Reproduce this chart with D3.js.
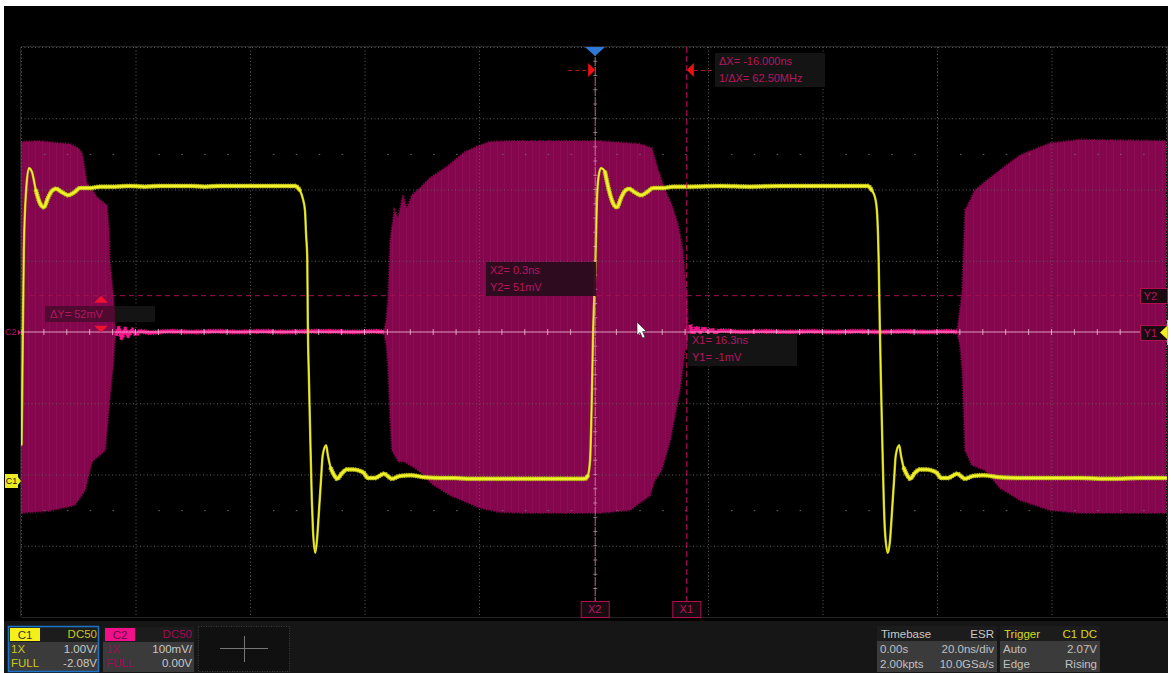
<!DOCTYPE html>
<html><head><meta charset="utf-8">
<script src="https://cdn.jsdelivr.net/npm/d3@7"></script>
<style>html,body{margin:0;padding:0;background:#fff;overflow:hidden}svg{display:block}text{font-family:"Liberation Sans",Arial,sans-serif}</style>
</head><body><svg id="c" width="1171" height="673"></svg>
<script>
// Channel 1 (yellow): time in ns, level in volts
const c1Time=[-99.9,-99.8,-99.5,-99.1,-98.6,-98.1,-97.4,-96.7,-96,-95.3,-94.6,-93.9,-92.8,-91.8,-90.7,-89.7,-87.9,-86.2,-83.6,-81,-78.4,-75.7,-73.1,-70.5,-67.9,-65.2,-62.6,-60,-57.4,-54.7,-52.1,-51.3,-50.8,-50.4,-50.2,-50,-49.9,-49.7,-49.5,-49.2,-49,-48.6,-48.3,-48,-47.6,-47.3,-46.7,-46.4,-45.9,-45.3,-44.8,-43.9,-43.1,-42,-40.8,-40.1,-39.4,-38.2,-36.6,-35.2,-33.8,-32,-29.4,-26.8,-24.2,-21.6,-18.1,-14.6,-11.1,-7.6,-4.1,-1.5,-1,-.6,-.3,-.1,.3,.6,.9,1.3,2,2.7,3.4,4.1,4.8,5.5,6.2,7.2,8.3,9.3,10.4,12.1,13.9,16.9,22.1,27.3,32.6,37.8,43,47.9,48.6,49.2,49.5,49.7,49.8,50,50.2,50.4,50.7,50.9,51.4,51.8,52.1,52.5,52.8,53.4,53.7,54.2,54.8,55.3,56.1,57,58.1,59.3,60,60.7,61.9,63.5,64.9,66.3,68,71,74.5,79.7,85,90.2,95.5,100];
const c1Volts=[.5,1.13,3.23,4.07,4.38,4.33,4.07,3.89,3.83,3.96,4.06,4.09,4.04,4,4.04,4.1,4.1,4.12,4.12,4.13,4.12,4.13,4.13,4.13,4.12,4.13,4.13,4.13,4.13,4.13,4.13,4.07,3.96,3.79,3.44,3.13,2.21,1.41,.7,-.28,-.7,-1.02,-.84,-.49,0,.35,.49,.35,.17,.07,.02,.1,.15,.15,.13,.1,.03,.03,.09,.02,.06,.07,.04,.03,.03,.02,.02,.02,.02,.02,.02,.02,.06,.28,1.13,1.97,2.95,3.93,4.27,4.38,4.33,4.07,3.89,3.83,3.96,4.06,4.09,4.04,4,4.04,4.1,4.1,4.12,4.12,4.13,4.12,4.13,4.13,4.13,4.13,4.07,3.96,3.79,3.44,3.13,2.21,1.41,.7,-.28,-.7,-1.02,-.84,-.49,0,.35,.49,.35,.17,.07,.02,.1,.15,.15,.13,.1,.03,.03,.09,.02,.06,.07,.04,.03,.03,.03,.02,.03,.03];
// Time windows in which the yellow trace has settled and looks thick
const settledStart=[-97.4,-45.9,2,54.2];
const settledEnd=[-51.3,-1,48.6,100];

// Channel 2 bursts (envelope): time in ns, level in mV
const burst1UpperT=[-100,-96.7,-93.2,-91.4,-90,-89.3,-88.5,-86.7,-85,-84.6,-84.5,-83.9,-83.6,-83.4];
const burst1UpperV=[267,268,265,264,258,251,209,189,178,143,101,52,10,0];
const burst1LowerT=[-100,-95,-90.6,-88.8,-87.6,-85.3,-84.5,-83.9,-83.6,-83.4];
const burst1LowerV=[-254,-251,-243,-222,-182,-166,-95,-46,-11,0];
const burst2UpperT=[-36.6,-36.2,-35.9,-35.5,-34.8,-34.1,-33.3,-32.6,-31.7,-30.3,-28.6,-25.6,-22.4,-19.8,-18.1,-14.6,1.1,8.1,10.2,11.3,12.5,13.7,14.8,15.6,16.2,16.5,16.9];
const burst2UpperV=[0,17,45,129,171,160,192,174,192,202,216,232,253,262,267,268,268,264,258,227,199,178,150,115,59,10,0];
const burst2LowerT=[-36.6,-36.2,-35.9,-35.5,-35.2,-34.1,-33,-31.2,-30.3,-28.2,-25.1,-19.8,-16.3,-11.1,1.1,6.4,9.9,10.7,11.9,13.4,15.1,16,16.9];
const burst2LowerV=[0,-18,-46,-124,-166,-182,-182,-191,-196,-213,-229,-247,-253,-254,-254,-250,-229,-208,-194,-152,-81,-25,0];
const burst3UpperT=[63.5,64,64.4,64.9,65.8,66.6,68.4,71,74.5,79.7,85,100];
const burst3UpperV=[0,31,59,171,185,199,211,227,248,265,270,268];
const burst3LowerT=[63.5,64,64.4,64.9,66.1,68.4,71,74.5,79.7,85,100];
const burst3LowerV=[0,-18,-53,-166,-187,-194,-219,-236,-250,-254,-254];

// Channel 2 idle trace between bursts
const idle1T=[-83.4,-82.9,-82.4,-81.8,-81.3,-80.6,-79.9,-79.2,-77.5,-74,-70,-66,-62,-58,-54,-50,-46,-42,-38,-36.6];
const idle1V=[-5,5,-8,4,-5,3,-3,1,-1,1,0,1,0,1,0,1,1,0,1,0];
const idle2T=[16.9,17.4,18.1,18.6,19.3,20,20.7,21.4,22.1,26,30,34,38,42,46,50,54,58,62,63.5];
const idle2V=[10,-2,6,-1,5,0,3,-1,2,0,1,0,1,0,1,0,1,0,1,0];

// Settings and readouts
const gridTimes=[-100,-80,-60,-40,-20,0,20,40,60,80,100];
const gridLevels=[-400,-300,-200,-100,0,100,200,300,400];
const minorTimes=[-96,-92,-88,-84,-76,-72,-68,-64,-56,-52,-48,-44,-36,-32,-28,-24,-16,-12,-8,-4,4,8,12,16,24,28,32,36,44,48,52,56,64,68,72,76,84,88,92,96];
const minorLevels=[-380,-360,-340,-320,-280,-260,-240,-220,-180,-160,-140,-120,-80,-60,-40,-20,20,40,60,80,120,140,160,180,220,240,260,280,320,340,360,380];
const halfRows=[250,-250];
const x2Time=0.3, x1Time=16.3, y2Level=51, y1Level=-1;
const deltaXLabels=["ΔX= -16.000ns","1/ΔX= 62.50MHz"];
const x2Labels=["X2= 0.3ns","Y2= 51mV"];
const x1Labels=["X1= 16.3ns","Y1= -1mV"];
const deltaYLabel="ΔY= 52mV";
const c1Panel=["C1","DC50","1X","1.00V/","FULL","-2.08V"];
const c2Panel=["C2","DC50","1X","100mV/","FULL","0.00V"];
const timebasePanel=["Timebase","ESR","0.00s","20.0ns/div","2.00kpts","10.0GSa/s"];
const triggerPanel=["Trigger","C1 DC","Auto","2.07V","Edge","Rising"];

const svg=d3.select("#c");
const PL=21,PR=1166,PT=47,PB=617;
const x=d3.scaleLinear().domain([-100,100]).range([PL,PR]);
const yM=d3.scaleLinear().domain([-400,400]).range([PB,PT]);
const yV=d3.scaleLinear().domain([-1.92,6.08]).range([PB,PT]);
const pairs=(a,b)=>a.map((d,i)=>[d,b[i]]);

svg.append("rect").attr("x",4).attr("y",6).attr("width",1164).attr("height",667).attr("fill","#000");
svg.append("rect").attr("x",4).attr("y",621).attr("width",1164).attr("height",52).attr("fill","#161616");

const defs=svg.append("defs");
const pat=defs.append("pattern").attr("id","st").attr("width",7).attr("height",10).attr("patternUnits","userSpaceOnUse");
pat.append("rect").attr("width",7).attr("height",10).attr("fill","#84064c");
pat.append("rect").attr("width",1).attr("height",10).attr("fill","#8e0b55");
defs.append("clipPath").attr("id","pc").append("rect").attr("x",PL).attr("y",PT).attr("width",PR-PL+1).attr("height",PB-PT);

const plot=svg.append("g").attr("clip-path","url(#pc)");

// bursts, with a fine toothed outline for the carrier's rough edge
const line=d3.line().x(d=>x(d[0])).y(d=>yM(d[1]));
[[burst1UpperT,burst1UpperV,burst1LowerT,burst1LowerV],[burst2UpperT,burst2UpperV,burst2LowerT,burst2LowerV],[burst3UpperT,burst3UpperV,burst3LowerT,burst3LowerV]].forEach(b=>{
  const poly=pairs(b[0],b[1]).concat(pairs(b[2],b[3]).reverse());
  plot.append("path").attr("d",line(poly)+"Z").attr("fill","url(#st)").attr("stroke","#84064c").attr("stroke-width",2.2).attr("stroke-dasharray","1 1.6");
});

// grid
const gridCol="#5c5c5c";
plot.selectAll(".gv").data(gridTimes.filter(d=>d!==0)).join("line").attr("x1",d=>x(d)+.5).attr("x2",d=>x(d)+.5).attr("y1",PT).attr("y2",PB)
  .attr("stroke",gridCol).attr("stroke-dasharray","1 2.5");
plot.selectAll(".gh").data(gridLevels.filter(d=>d!==0)).join("line").attr("y1",d=>yM(d)+.5).attr("y2",d=>yM(d)+.5).attr("x1",PL).attr("x2",PR)
  .attr("stroke",gridCol).attr("stroke-dasharray","1 2.5");
halfRows.forEach(r=>{
  plot.selectAll(null).data(minorTimes).join("rect").attr("x",d=>x(d)).attr("y",yM(r)).attr("width",1.5).attr("height",1).attr("fill","#6a6a6a");
});

// idle trace
[[idle1T,idle1V],[idle2T,idle2V]].forEach(s=>{
  const p=plot.append("g").attr("fill","none");
  const dd=line.curve(d3.curveMonotoneX)(pairs(s[0],s[1]));
  p.append("path").attr("d",dd).attr("stroke","#d8107c").attr("stroke-width",5.2).attr("stroke-dasharray","1 1.4");
  p.append("path").attr("d",dd).attr("stroke","#f5148c").attr("stroke-width",3.4);
});
line.curve(d3.curveLinear);

// Y2 dashed cursor
plot.append("line").attr("x1",PL).attr("x2",PR).attr("y1",yM(y2Level)).attr("y2",yM(y2Level)).attr("stroke","#a8104f").attr("stroke-dasharray","5 4");

// yellow trace
const lineV=d3.line().x(d=>x(d[0])).y(d=>yV(d[1])).curve(d3.curveMonotoneX);
const c1=pairs(c1Time,c1Volts);
const yel=plot.append("g").attr("fill","none").attr("stroke-linecap","round");
yel.append("path").attr("d",lineV(c1)).attr("stroke","#c2c21a").attr("stroke-width",2.4);
settledStart.forEach((s,i)=>{
  const part=lineV(c1.filter(d=>d[0]>=s&&d[0]<=settledEnd[i]));
  yel.append("path").attr("d",part).attr("stroke","#a8a814").attr("stroke-width",5).attr("stroke-linecap","butt").attr("stroke-dasharray","1 1.3");
  yel.append("path").attr("d",part).attr("stroke","#c6c61c").attr("stroke-width",4);
  yel.append("path").attr("d",part).attr("stroke","#f2f22c").attr("stroke-width",2);
});
yel.append("path").attr("d",lineV(c1)).attr("stroke","#f4f42a").attr("stroke-width",1.1);

// centre axes
plot.append("line").attr("x1",PL).attr("x2",PR).attr("y1",yM(0)).attr("y2",yM(0)).attr("stroke","#f4c0da").attr("stroke-opacity",.8);
plot.selectAll(".tx").data(minorTimes.concat(gridTimes)).join("line").attr("x1",d=>x(d)).attr("x2",d=>x(d)).attr("y1",yM(0)-3).attr("y2",yM(0)+3).attr("stroke","#f4c0da").attr("stroke-opacity",.8);
plot.selectAll(".ty").data(minorLevels.concat(gridLevels)).join("line").attr("x1",x(x2Time)-2).attr("x2",x(x2Time)+2).attr("y1",d=>yM(d)).attr("y2",d=>yM(d)).attr("stroke","#f4c0da").attr("stroke-opacity",.55);

// X cursors
plot.append("line").attr("x1",x(x2Time)).attr("x2",x(x2Time)).attr("y1",PT).attr("y2",PB).attr("stroke","#d88ab0").attr("stroke-opacity",.8).attr("stroke-dasharray","9 1");
plot.append("line").attr("x1",x(x1Time)).attr("x2",x(x1Time)).attr("y1",PT).attr("y2",PB).attr("stroke","#c8105f").attr("stroke-dasharray","6 3");

// plot border
const edge="#242424";
svg.append("line").attr("x1",PL).attr("x2",PR+2).attr("y1",PT-.5).attr("y2",PT-.5).attr("stroke",edge);
svg.append("line").attr("x1",PL).attr("x2",PR+2).attr("y1",PB+.5).attr("y2",PB+.5).attr("stroke",edge);
svg.append("line").attr("x1",PL-.5).attr("x2",PL-.5).attr("y1",PT).attr("y2",PB).attr("stroke",edge);
svg.append("line").attr("x1",PR+1.5).attr("x2",PR+1.5).attr("y1",PT).attr("y2",PB).attr("stroke",edge);

// measurement boxes
const curCol="#b81560";
function box(bx,by,w,h,fill,op,lines,tx,ys){
  svg.append("rect").attr("x",bx).attr("y",by).attr("width",w).attr("height",h).attr("fill",fill).attr("fill-opacity",op);
  lines.forEach((s,i)=>svg.append("text").attr("x",tx).attr("y",ys[i]).attr("font-size",11).attr("fill",curCol).text(s));
}
box(715,53,110,34,"#141414",1,deltaXLabels,719,[65,82]);
box(486,262,110,34,"#2a0c1c",.95,x2Labels,490,[274,291]);
box(688,334,109,32,"#141414",1,x1Labels,692,[344,361]);
svg.append("rect").attr("x",115).attr("y",306).attr("width",40).attr("height",16).attr("fill","#141414");
box(45,306,70,16,"#4a0a2e",.9,[deltaYLabel],50,[318]);

// delta arrows
const tri=(pts,fill)=>svg.append("polygon").attr("points",pts.map(p=>p.join(",")).join(" ")).attr("fill",fill);
const ax2=x(x2Time), ax1=x(x1Time), ay2=yM(y2Level), ay1=yM(y1Level);
tri([[ax2-7,63],[ax2-7,77],[ax2,70]],"#f01010");
tri([[ax1,70],[ax1+7,63],[ax1+7,77]],"#f01010");
svg.append("line").attr("x1",ax2-27).attr("x2",ax2-7).attr("y1",70.5).attr("y2",70.5).attr("stroke","#b01818").attr("stroke-dasharray","4 3");
svg.append("line").attr("x1",ax1+7).attr("x2",ax1+26).attr("y1",70.5).attr("y2",70.5).attr("stroke","#b01818").attr("stroke-dasharray","4 3");
tri([[101,ay2],[94,ay2+7],[108,ay2+7]],"#f01030");
tri([[101,ay1-.5],[94,ay1-7],[108,ay1-7]],"#f01030");

// trigger marker
tri([[585,47],[605,47],[595,56]],"#2f78d8");
// cursor tags
function tag(bx,by,w,h,s,dx){
  svg.append("rect").attr("x",bx+.5).attr("y",by+.5).attr("width",w).attr("height",h).attr("fill","#1a0a12").attr("stroke","#b0104f");
  svg.append("text").attr("x",bx+w/2+(dx||0)).attr("y",by+h/2+4).attr("text-anchor","middle").attr("font-size",11).attr("fill","#b81560").text(s);
}
tag(x(x2Time)-14.5,601,28,16,"X2");
tag(x(x1Time)-14.5,601,28,16,"X1");
tag(1140,288,27,15,"Y2",-3);
tag(1140,325,27,15,"Y1",-3);
tri([[1160,332.5],[1167,326],[1167,339]],"#f4f020");
svg.append("rect").attr("x",1167).attr("y",320).attr("width",1).attr("height",25).attr("fill","#c8c820");

// channel markers
svg.append("text").attr("x",5).attr("y",335).attr("font-size",9).attr("fill","#b01060").text("C2");
tri([[18,330],[21,332.5],[18,335]],"#d01878");
svg.append("rect").attr("x",5).attr("y",474).attr("width",13).attr("height",14).attr("fill","#ecec20");
tri([[18,477],[21,481],[18,485]],"#ecec20");
svg.append("text").attr("x",11.5).attr("y",484).attr("text-anchor","middle").attr("font-size",9).attr("fill","#222").text("C1");

// mouse pointer
svg.append("path").attr("transform","translate(637,322)")
  .attr("d",d3.line()([[0,0],[0,13],[3,10.5],[5.5,16],[8,15],[5.5,9.5],[9.5,9.5]])+"Z").attr("fill","#fff").attr("stroke","#222").attr("stroke-width",.6);

// bottom panels
const F=11.5;
function txt(px,py,s,col,anchor){
  svg.append("text").attr("x",px).attr("y",py).attr("font-size",F).attr("fill",col).attr("text-anchor",anchor||"start").text(s);
}
function chan(px,w,vals,mainCol,labCol,valCol,tagTxt,border){
  svg.append("rect").attr("x",px).attr("y",627).attr("width",w).attr("height",45).attr("fill","#3b3b3b");
  svg.append("rect").attr("x",px).attr("y",627).attr("width",w).attr("height",15).attr("fill","#1c1c1c");
  svg.append("rect").attr("x",px+2).attr("y",628).attr("width",30).attr("height",13).attr("fill",mainCol);
  svg.append("text").attr("x",px+17).attr("y",639).attr("text-anchor","middle").attr("font-size",F).attr("fill",tagTxt).text(vals[0]);
  txt(px+w-2,638,vals[1],labCol,"end");
  txt(px+3,653,vals[2],labCol);
  txt(px+w-2,653,vals[3],valCol,"end");
  txt(px+3,667,vals[4],labCol);
  txt(px+w-2,667,vals[5],valCol,"end");
  if(border) svg.append("rect").attr("x",px+.5).attr("y",626.5).attr("width",w-1).attr("height",45).attr("fill","none").attr("stroke","#1c74c8").attr("stroke-width",1.5);
}
chan(8,91,c1Panel,"#f6f018","#c8c820","#c8c8c8","#333",true);
chan(103,91,c2Panel,"#f0108a","#a00a58","#c8c8c8","#6a0a40",false);
svg.append("rect").attr("x",198.5).attr("y",626.5).attr("width",91).attr("height",45).attr("fill","#101010").attr("stroke","#3c3c3c").attr("stroke-dasharray","1 1.5");
svg.append("line").attr("x1",220).attr("x2",268).attr("y1",648.5).attr("y2",648.5).attr("stroke","#777");
svg.append("line").attr("x1",244.5).attr("x2",244.5).attr("y1",636).attr("y2",662).attr("stroke","#777");

function info(px,w,vals,headCol,rightCol){
  svg.append("rect").attr("x",px).attr("y",641).attr("width",w).attr("height",31).attr("fill","#3b3b3b");
  svg.append("rect").attr("x",px).attr("y",626).attr("width",w).attr("height",15).attr("fill","#1c1c1c");
  txt(px+4,638,vals[0],headCol);
  txt(px+w-3,638,vals[1],rightCol,"end");
  txt(px+3,653,vals[2],"#c0c0c0");
  txt(px+w-3,653,vals[3],"#c0c0c0","end");
  txt(px+3,668,vals[4],"#c0c0c0");
  txt(px+w-3,668,vals[5],"#c0c0c0","end");
}
info(877,120,timebasePanel,"#c8c8c8","#c8c8c8");
info(1000,100,triggerPanel,"#d8d820","#d8d820");
</script></body></html>
